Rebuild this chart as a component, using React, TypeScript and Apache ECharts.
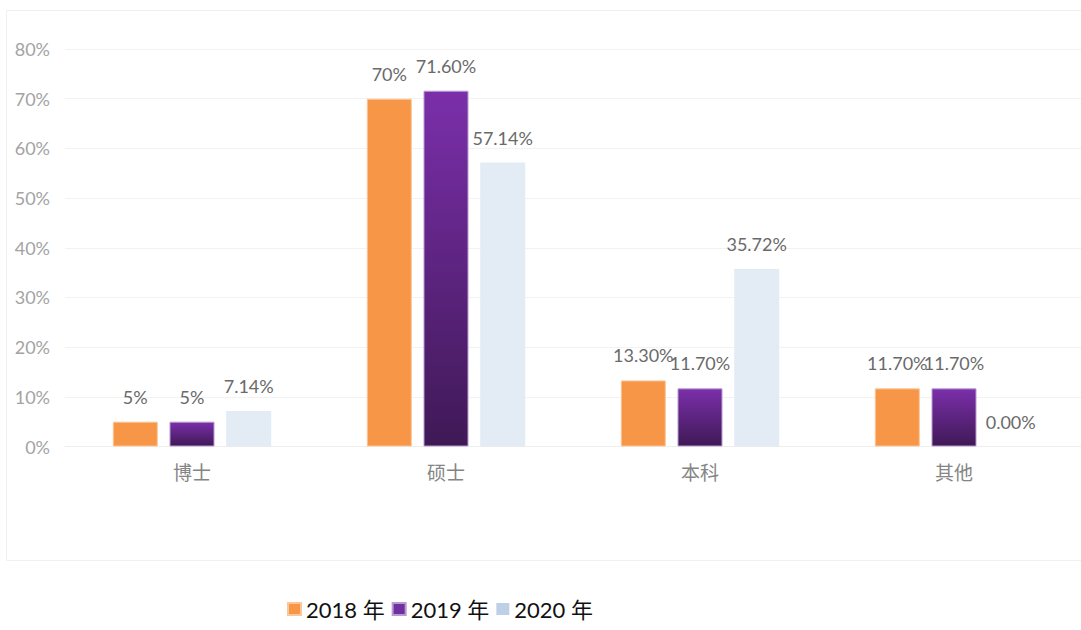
import React, { useEffect, useRef } from "react";
import * as echarts from "echarts";

const categories = ["博士", "硕士", "本科", "其他"];
const seriesNames = ["2018 年", "2019 年", "2020 年"];
const values2018 = [5, 70, 13.3, 11.7];
const values2019 = [5, 71.6, 11.7, 11.7];
const values2020 = [7.14, 57.14, 35.72, 0];
const labels2018 = ["5%", "70%", "13.30%", "11.70%"];
const labels2019 = ["5%", "71.60%", "11.70%", "11.70%"];
const labels2020 = ["7.14%", "57.14%", "35.72%", "0.00%"];
const yTicks = [0, 10, 20, 30, 40, 50, 60, 70, 80];

export default function App() {
  const ref = useRef<HTMLDivElement>(null);
  useEffect(() => {
    if (!ref.current) return;
    const chart = echarts.init(ref.current, undefined, { renderer: "svg" });
    const labelStyle = (texts: string[]) => ({
      show: true,
      position: "top",
      distance: 16,
      color: "#6a6a6a",
      fontFamily: "Lato",
      fontSize: 18,
      formatter: (p: any) => texts[p.dataIndex],
    });
    const purpleGrad = new echarts.graphic.LinearGradient(0, 0, 0, 1, [
      { offset: 0, color: "#7B2FAA" },
      { offset: 1, color: "#3F1956" },
    ]);
    chart.setOption({
      animation: false,
      backgroundColor: "#ffffff",
      graphic: [
        {
          type: "rect",
          silent: true,
          z: -10,
          shape: { x: 6.5, y: 10.5, width: 1100, height: 550 },
          style: { fill: "none", stroke: "#F0F0F0", lineWidth: 1 },
        },
      ],
      grid: { left: 65, right: -8, top: 49, bottom: 183.5, containLabel: false },
      legend: {
        left: 287,
        top: 598,
        padding: 0,
        itemWidth: 13,
        itemHeight: 12,
        itemGap: 7,
        icon: "rect",
        textStyle: {
          color: "#111111",
          fontFamily: "Lato, 'Noto Sans CJK SC'",
          fontSize: 22,
          padding: [18, 0, 0, 0],
        },
        data: [
          { name: seriesNames[0], itemStyle: { color: "#F79646" } },
          { name: seriesNames[1], itemStyle: { color: "#7030A0" } },
          { name: seriesNames[2], itemStyle: { color: "#BDD0E8" } },
        ],
      },
      xAxis: {
        type: "category",
        data: categories,
        axisTick: { show: false },
        axisLine: { show: true, lineStyle: { color: "#EDEDED", width: 1 } },
        axisLabel: {
          color: "#858585",
          fontFamily: "'Noto Sans CJK SC'",
          fontSize: 19,
          margin: 15,
        },
      },
      yAxis: {
        type: "value",
        min: yTicks[0],
        max: yTicks[yTicks.length - 1],
        interval: 10,
        axisLine: { show: false },
        axisTick: { show: false },
        splitLine: { lineStyle: { color: "#F2F2F2", width: 1 } },
        axisLabel: {
          color: "#A3A3A3",
          fontFamily: "Lato",
          fontSize: 18,
          margin: 15,
          formatter: (v: number) => v + "%",
        },
      },
      series: [
        {
          name: seriesNames[0],
          type: "bar",
          data: values2018,
          barWidth: 45,
          barGap: "26%",
          itemStyle: { color: "#F79646", borderColor: "#FBC699", borderWidth: 1 },
          label: labelStyle(labels2018),
        },
        {
          name: seriesNames[1],
          type: "bar",
          data: values2019,
          barWidth: 45,
          barGap: "26%",
          itemStyle: { color: purpleGrad, borderColor: "#B99AD0", borderWidth: 1 },
          label: labelStyle(labels2019),
        },
        {
          name: seriesNames[2],
          type: "bar",
          data: values2020,
          barWidth: 45,
          barGap: "26%",
          itemStyle: { color: "#E3EBF5" },
          label: labelStyle(labels2020),
        },
      ],
    });
    return () => chart.dispose();
  }, []);
  return (
    <div
      ref={ref}
      style={{ position: "fixed", left: 0, top: 0, width: 1081, height: 630 }}
    />
  );
}
